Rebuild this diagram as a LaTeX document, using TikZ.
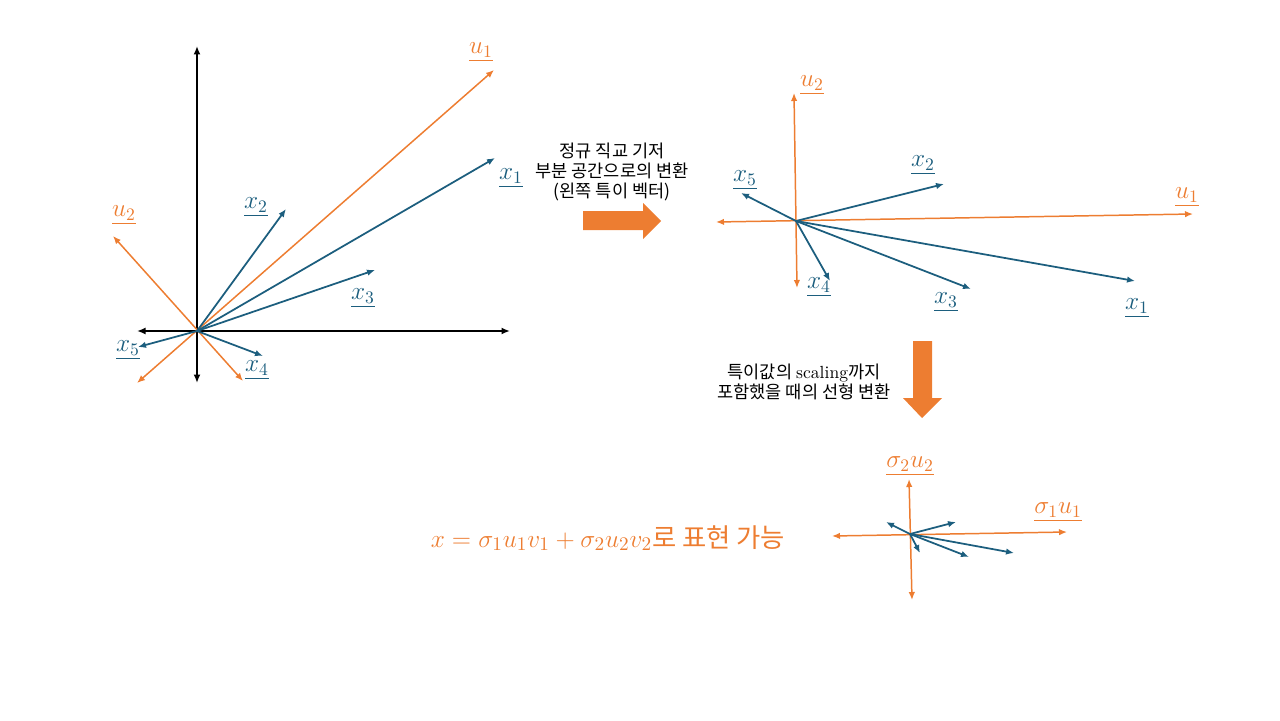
\documentclass[tikz,border=0pt]{standalone}
\usepackage{fontspec}
\newfontfamily\kr{Noto Sans CJK KR}
\usetikzlibrary{arrows.meta}
\definecolor{svdorange}{HTML}{ED7D31}
\definecolor{svdblue}{HTML}{1C5E7E}

\begin{document}
\begin{tikzpicture}[x=0.02cm, y=-0.02cm,
  axis/.style={black, line width=1.1pt, {Latex[length=1.7mm,width=1.4mm]}-{Latex[length=1.7mm,width=1.4mm]}},
  uvec/.style={svdorange, line width=0.85pt, {Latex[length=1.6mm,width=1.3mm]}-{Latex[length=1.6mm,width=1.3mm]}},
  xvec/.style={svdblue, line width=1pt, -{Latex[length=1.6mm,width=1.3mm]}},
  vlbl/.style={font=\fontsize{14}{16}\selectfont},
  note/.style={align=center, font=\kr\fontsize{10}{11.3}\selectfont}]
\useasboundingbox (0,0) rectangle (1280,720);

% original space
\coordinate (O) at (197,331);
\coordinate (axT) at (197,46);
\coordinate (axB) at (197,383);
\coordinate (axL) at (137,331);
\coordinate (axR) at (510,331);
\draw[axis] (axB) -- (axT);
\draw[axis] (axL) -- (axR);
\coordinate (u1a) at (137,383);
\coordinate (u1b) at (494,70);
\coordinate (u2a) at (243,381);
\coordinate (u2b) at (113,236);
\draw[uvec] (u1a) -- (u1b);
\draw[uvec] (u2a) -- (u2b);
\coordinate (x1) at (495,158);
\coordinate (x2) at (286,209);
\coordinate (x3) at (375,270);
\coordinate (x4) at (263,356);
\coordinate (x5) at (138,347);
\draw[xvec] (O) -- (x1);
\draw[xvec] (O) -- (x2);
\draw[xvec] (O) -- (x3);
\draw[xvec] (O) -- (x4);
\draw[xvec] (O) -- (x5);
\path (481,52) node (lu1) [vlbl, svdorange] {$\underline{u_1}$};
\path (124,215) node (lu2) [vlbl, svdorange] {$\underline{u_2}$};
\path (511,178) node (lx1) [vlbl, svdblue] {$\underline{x_1}$};
\path (256,207) node (lx2) [vlbl, svdblue] {$\underline{x_2}$};
\path (363,298) node (lx3) [vlbl, svdblue] {$\underline{x_3}$};
\path (257,370) node (lx4) [vlbl, svdblue] {$\underline{x_4}$};
\path (128,350) node (lx5) [vlbl, svdblue] {$\underline{x_5}$};

% first step
\fill[svdorange] (583,211) -- (643,211) -- (643,203) -- (661,221) -- (643,239) -- (643,230) -- (583,230) -- cycle;
\path (612,172) node (step1) [note] {정규 직교 기저\\부분 공간으로의 변환\\(왼쪽 특이 벡터)};

% rotated space
\coordinate (P) at (796,221);
\coordinate (pu1a) at (716,222);
\coordinate (pu1b) at (1193,214);
\coordinate (pu2a) at (797,288);
\coordinate (pu2b) at (794,93);
\draw[uvec] (pu1a) -- (pu1b);
\draw[uvec] (pu2a) -- (pu2b);
\coordinate (px1) at (1135,281);
\coordinate (px2) at (944,184);
\coordinate (px3) at (971,289);
\coordinate (px4) at (830,281);
\coordinate (px5) at (741,193);
\draw[xvec] (P) -- (px1);
\draw[xvec] (P) -- (px2);
\draw[xvec] (P) -- (px3);
\draw[xvec] (P) -- (px4);
\draw[xvec] (P) -- (px5);
\path (1187,197) node (lpu1) [vlbl, svdorange] {$\underline{u_1}$};
\path (812,85) node (lpu2) [vlbl, svdorange] {$\underline{u_2}$};
\path (1137,308) node (lpx1) [vlbl, svdblue] {$\underline{x_1}$};
\path (923,165) node (lpx2) [vlbl, svdblue] {$\underline{x_2}$};
\path (946,302) node (lpx3) [vlbl, svdblue] {$\underline{x_3}$};
\path (819,287) node (lpx4) [vlbl, svdblue] {$\underline{x_4}$};
\path (745,180) node (lpx5) [vlbl, svdblue] {$\underline{x_5}$};

% second step
\fill[svdorange] (913,341) -- (932,341) -- (932,398) -- (942,398) -- (922,418) -- (903,398) -- (913,398) -- cycle;
\path (804,382) node (step2) [note] {특이값의 {\rmfamily scaling}까지\\포함했을 때의 선형 변환};

% scaled space
\coordinate (S) at (910,534);
\coordinate (su1a) at (832,536);
\coordinate (su1b) at (1067,532);
\coordinate (su2a) at (912,600);
\coordinate (su2b) at (909,479);
\draw[uvec] (su1a) -- (su1b);
\draw[uvec] (su2a) -- (su2b);
\coordinate (sx1) at (1014,553);
\coordinate (sx2) at (956,522);
\coordinate (sx3) at (969,557);
\coordinate (sx4) at (920,553);
\coordinate (sx5) at (886,522);
\draw[xvec] (S) -- (sx1);
\draw[xvec] (S) -- (sx2);
\draw[xvec] (S) -- (sx3);
\draw[xvec] (S) -- (sx4);
\draw[xvec] (S) -- (sx5);
\path (1058,512) node (lsu1) [vlbl, svdorange] {$\underline{\sigma_1 u_1}$};
\path (910,466) node (lsu2) [vlbl, svdorange] {$\underline{\sigma_2 u_2}$};

% result
\path (608,538) node (form) [svdorange, font=\fontsize{15}{18}\selectfont] {$x=\sigma_1u_1v_1+\sigma_2u_2v_2${\kr 로 표현 가능}};
\end{tikzpicture}
\end{document}
